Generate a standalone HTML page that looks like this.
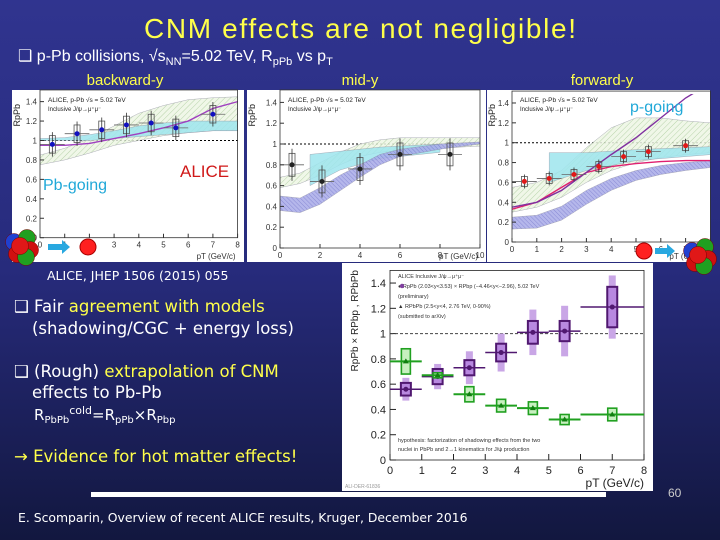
<!DOCTYPE html>
<html><head><meta charset="utf-8">
<style>
html,body{margin:0;padding:0;background:#1b2060;}
svg{display:block}
.t{font-family:"Liberation Sans",sans-serif}
.v{font-family:"DejaVu Sans","Liberation Sans",sans-serif}
</style></head>
<body>
<svg id="slide" width="720" height="540" viewBox="0 0 720 540" xmlns="http://www.w3.org/2000/svg">
<defs>
<linearGradient id="bg" x1="0" y1="0" x2="0" y2="1">
<stop offset="0" stop-color="#30348f"/><stop offset="0.5" stop-color="#272b7c"/><stop offset="1" stop-color="#12173f"/>
</linearGradient>
<pattern id="hg" width="4" height="4" patternUnits="userSpaceOnUse" patternTransform="rotate(45)"><rect width="4" height="4" fill="#eef6e4"/><line x1="0" y1="0" x2="0" y2="4" stroke="#9ac28a" stroke-width="0.8"/></pattern>
<pattern id="hb" width="3" height="3" patternUnits="userSpaceOnUse" patternTransform="rotate(-45)"><rect width="3" height="3" fill="#a9abe8"/><line x1="0" y1="0" x2="0" y2="3" stroke="#6668c8" stroke-width="0.8"/></pattern>
</defs>
<rect width="720" height="540" fill="url(#bg)"/>

<text class="t" x="360" y="38" text-anchor="middle" font-size="28" fill="#ffff4a" textLength="432">CNM effects are not negligible!</text>
<text class="t" x="18" y="61" font-size="16" fill="#fff">❑ p-Pb collisions, √s<tspan font-size="11" dy="4">NN</tspan><tspan dy="-4">=5.02 TeV, R</tspan><tspan font-size="11" dy="4">pPb</tspan><tspan dy="-4"> vs p</tspan><tspan font-size="11" dy="4">T</tspan></text>
<text class="t" x="125" y="85" text-anchor="middle" font-size="15" fill="#ffff4a">backward-y</text>
<text class="t" x="360" y="85" text-anchor="middle" font-size="15" fill="#ffff4a">mid-y</text>
<text class="t" x="602" y="85" text-anchor="middle" font-size="15" fill="#ffff4a">forward-y</text>

<g id="panels"></g>

<text class="v" x="47" y="280" font-size="12.5" fill="#fff">ALICE, JHEP 1506 (2015) 055</text>
<g class="v" font-size="16.5" fill="#fff">
<text x="14" y="312">❑ Fair <tspan fill="#ffff4a">agreement with models</tspan></text>
<text x="32" y="334">(shadowing/CGC + energy loss)</text>
<text x="14" y="377">❑ (Rough) <tspan fill="#ffff4a">extrapolation of CNM</tspan></text>
<text x="32" y="398">effects  to Pb-Pb</text>
<text x="34" y="420" font-size="15">R<tspan font-size="10" dy="3">PbPb</tspan><tspan font-size="11" dy="-9">cold</tspan><tspan dy="6">=R</tspan><tspan font-size="10" dy="3">pPb</tspan><tspan dy="-3">×R</tspan><tspan font-size="10" dy="3">Pbp</tspan></text>
<text x="14" y="462" fill="#ffff4a">→ Evidence for hot matter effects!</text>
</g>
<rect x="91" y="492" width="515" height="5" fill="#fff"/>
<text class="t" x="668" y="497" font-size="12" fill="#ccc">60</text>
<text class="v" x="18" y="522" font-size="12.4" fill="#fff">E. Scomparin, Overview of recent ALICE results, Kruger, December 2016</text>
</svg>
<script>
// ---- data: backward-y panel
const bwX = [0.5,1.5,2.5,3.5,4.5,5.5,7];
const bwR = [0.96,1.07,1.11,1.16,1.18,1.13,1.27];
const bwModelX = [0,1,2,3,4,5,6,7,8];
const bwGreenLo = [0.75,0.8,0.87,0.95,1.0,1.05,1.08,1.1,1.1];
const bwGreenHi = [0.85,0.92,1.02,1.15,1.28,1.36,1.42,1.44,1.45];
const bwCyanLo = [1.0,1.0,1.0,1.02,1.04,1.06,1.08,1.1,1.1];
const bwCyanHi = [1.02,1.03,1.06,1.1,1.15,1.18,1.2,1.2,1.2];
const bwLine = [0.95,0.95,0.97,1.02,1.07,1.13,1.2,1.33,1.4];
// ---- data: mid-y panel
const midX = [0.6,2.1,4,6,8.5];
const midR = [0.8,0.64,0.76,0.9,0.9];
const midModelX = [0,1,2,3,4,5,6,8,10];
const midBlueLo = [0.36,0.34,0.42,0.55,0.68,0.8,0.88,0.95,1.0];
const midBlueHi = [0.5,0.48,0.58,0.7,0.8,0.9,0.95,1.0,1.02];
const midGreenLo = [0.58,0.62,0.7,0.8,0.88,0.92,0.94,0.96,0.98];
const midGreenHi = [0.68,0.72,0.82,0.92,1.0,1.04,1.06,1.06,1.06];
// ---- data: forward-y panel
const fwX = [0.5,1.5,2.5,3.5,4.5,5.5,7];
const fwR = [0.61,0.64,0.68,0.76,0.86,0.91,0.97];
const fwModelX = [0,1,2,3,4,5,6,7,8];
const fwBlueLo = [0.13,0.14,0.22,0.38,0.52,0.62,0.68,0.72,0.75];
const fwBlueHi = [0.25,0.27,0.36,0.52,0.64,0.72,0.77,0.8,0.82];
const fwGreenLo = [0.3,0.35,0.45,0.6,0.72,0.8,0.85,0.88,0.9];
const fwGreenHi = [0.55,0.6,0.72,0.95,1.15,1.25,1.25,1.22,1.2];
const fwLine = [0.35,0.4,0.52,0.7,0.88,1.05,1.25,1.45,1.6];
const fwMag = [0.33,0.4,0.55,0.7,0.76,0.79,0.81,0.82,0.82];
// ---- data: combined panel
const cX = [0.5,1.5,2.5,3.5,4.5,5.5,7];
const cXlo = [0,1,2,3,4,5,6];
const cXhi = [1,2,3,4,5,6,8];
const purpleR = [0.56,0.66,0.73,0.85,1.01,1.02,1.21];
const purpleSys = [0.05,0.06,0.06,0.07,0.09,0.08,0.16];
const purpleUnc = [0.09,0.1,0.13,0.15,0.18,0.2,0.25];
const greenR = [0.78,0.67,0.52,0.43,0.41,0.32,0.36];
const greenSys = [0.1,0.02,0.06,0.05,0.05,0.04,0.05];
const yTicks = [0,0.2,0.4,0.6,0.8,1,1.2,1.4];
const xTicks = [0,1,2,3,4,5,6,7,8];

const NS="http://www.w3.org/2000/svg";
const root=document.getElementById('panels');
function mk(tag,attrs,parent){const e=document.createElementNS(NS,tag);for(const k in attrs)e.setAttribute(k,attrs[k]);(parent||root).appendChild(e);return e;}
function axis(x0,sx,y0,sy){return {X:v=>x0+v*sx,Y:v=>y0-v*sy};}
function band(ax,xs,lo,hi,fill,g){let d='';xs.forEach((x,i)=>{d+=(i?'L':'M')+ax.X(x)+','+ax.Y(hi[i]);});for(let i=xs.length-1;i>=0;i--)d+='L'+ax.X(xs[i])+','+ax.Y(lo[i]);return mk('path',{d:d+'Z',fill:fill,stroke:'#889',"stroke-width":0.4,opacity:0.85},g);}
function line(ax,xs,ys,col,g){return mk('polyline',{points:xs.map((x,i)=>ax.X(x)+','+ax.Y(ys[i])).join(' '),fill:'none',stroke:col,"stroke-width":1.4},g);}

function smallPanel(name,px,py,pw,ph,ax,xmax,xstep,ylabel){
  const g=mk('g',{});
  
  
  const bgr=mk('rect',{x:px,y:py,width:pw,height:ph,fill:'#fff'},g);
  
  
  const cid='c'+name;const cp=mk('clipPath',{id:cid},g);mk('rect',{x:ax.X(0),y:py+4,width:ax.X(xmax)-ax.X(0),height:ax.Y(0)-py-4},cp);
  const inner=mk('g',{"clip-path":'url(#'+cid+')'},g);
  mk('rect',{x:ax.X(0),y:ax.Y(1.52),width:ax.X(xmax)-ax.X(0),height:ax.Y(0)-ax.Y(1.52),fill:'none',stroke:'#333',"stroke-width":0.8},g);
  for(let v=0;v<=1.4001;v+=0.2){const y=ax.Y(v);mk('line',{x1:ax.X(0),x2:ax.X(0)+4,y1:y,y2:y,stroke:'#333'},g);
    const t=mk('text',{x:ax.X(0)-3,y:y+3,"font-size":8,"text-anchor":'end',fill:'#333',class:'t'},g);t.textContent=ylabel?(Math.round(v*10)/10).toString():'';}
  for(let v=0;v<=xmax;v+=xstep){const x=ax.X(v);mk('line',{x1:x,x2:x,y1:ax.Y(0),y2:ax.Y(0)-4,stroke:'#333'},g);
    const t=mk('text',{x:x,y:ax.Y(0)+10,"font-size":8,"text-anchor":'middle',fill:'#333',class:'t'},g);t.textContent=v;}
  mk('line',{x1:ax.X(0),x2:ax.X(xmax),y1:ax.Y(1),y2:ax.Y(1),stroke:'#000',"stroke-dasharray":'2,2'},inner);
  const lab=mk('text',{x:ax.X(0)+8,y:py+12,"font-size":6.5,fill:'#222',class:'t'},g);lab.textContent='ALICE, p-Pb √s = 5.02 TeV';
  const lab2=mk('text',{x:ax.X(0)+8,y:py+21,"font-size":6,fill:'#222',class:'t'},g);lab2.textContent='Inclusive J/ψ→μ⁺μ⁻';
  const yl=mk('text',{x:px+8,y:py+14,"font-size":9,fill:'#222',class:'t',transform:'rotate(-90 '+(px+8)+' '+(py+14)+')',"text-anchor":'end'},g);yl.textContent='RpPb';
  const xl=mk('text',{x:ax.X(xmax)-2,y:py+ph-3,"font-size":8,"text-anchor":'end',fill:'#333',class:'t'},g);xl.textContent='pT (GeV/c)';
  return {g,inner};
}
function points(ax,xs,ys,col,g,name,xe,syse){
  xs.forEach((x,i)=>{
    const b=mk('rect',{x:ax.X(x)-3,y:ax.Y(ys[i]+syse),width:6,height:ax.Y(0)-ax.Y(2*syse),fill:'none',stroke:'#555',"stroke-width":0.8},g);
    mk('line',{x1:ax.X(x-xe),x2:ax.X(x+xe),y1:ax.Y(ys[i]),y2:ax.Y(ys[i]),stroke:'#666',"stroke-width":0.8},g);
    mk('line',{x1:ax.X(x),x2:ax.X(x),y1:ax.Y(ys[i]+syse*1.4),y2:ax.Y(ys[i]-syse*1.4),stroke:'#333',"stroke-width":0.8},g);
    const c=mk('circle',{cx:ax.X(x),cy:ax.Y(ys[i]),r:2.5,fill:col},g);
    
    
  });
}
// Backward panel
const a1=axis(40,24.7,237.7,97.2);
let p=smallPanel('backward-panel',12,90,232,172,a1,8,1,true);
band(a1,bwModelX,bwGreenLo,bwGreenHi,'url(#hg)',p.inner);
band(a1,bwModelX,bwCyanLo,bwCyanHi,'#9ee6ee',p.inner);
line(a1,bwModelX,bwLine,'#a040c0',p.inner);
points(a1,bwX,bwR,'#1010c0',p.inner,'backward',0.5,0.09);
// Mid panel
const a2=axis(280,20,248,104);
p=smallPanel('mid-panel',247,90,239,172,a2,10,2,true);
band(a2,midModelX,midGreenLo,midGreenHi,'url(#hg)',p.inner);
band(a2,[1.5,3,5,8],[0.6,0.75,0.86,0.92],[0.9,0.93,0.97,1.0],'#9ee6ee',p.inner);
band(a2,midModelX,midBlueLo,midBlueHi,'url(#hb)',p.inner);
points(a2,midX,midR,'#222',p.inner,'mid',0.6,0.11);
// Forward panel
const a3=axis(512,24.8,242,99.3);
p=smallPanel('forward-panel',487,90,223,172,a3,8,1,true);
band(a3,fwModelX,fwGreenLo,fwGreenHi,'url(#hg)',p.inner);
band(a3,[1.5,3,5,8],[0.6,0.72,0.82,0.88],[0.9,0.9,0.93,0.96],'#9ee6ee',p.inner);
band(a3,fwModelX,fwBlueLo,fwBlueHi,'url(#hb)',p.inner);
line(a3,fwModelX,fwMag,'#e02070',p.inner);
line(a3,fwModelX,fwLine,'#8030a0',p.inner);
points(a3,fwX,fwR,'#e01818',p.inner,'forward',0.5,0.05);

// overlays text
function txt(x,y,s,size,col,name,anchor){const t=mk('text',{x:x,y:y,"font-size":size,fill:col,class:'t',"text-anchor":anchor||'start'});t.textContent=s;
  
  return t;}
txt(43,190,'Pb-going',16,'#20a8d8','pb-going-label');
txt(180,177,'ALICE',17,'#d01818','alice-label');
txt(630,112,'p-going',16,'#20a8d8','p-going-label');
// nuclei icons
function nucleus(cx,cy,name){const g=mk('g',{});
  [[-8,-4,'#2040d0'],[5,-8,'#20a020'],[8,4,'#d01010'],[-5,8,'#d01010'],[4,11,'#20a020'],[-2,0,'#e01818']].forEach(q=>mk('circle',{cx:cx+q[0],cy:cy+q[1],r:8.5,fill:q[2],stroke:'#700',"stroke-width":0.5},g));}
nucleus(22,246,'lead-nucleus-left');
mk('circle',{cx:88,cy:247,r:8,fill:'#ff2020',stroke:'#a00'});
mk('path',{d:'M48,244 h14 v-4 l8,7 l-8,7 v-4 h-14z',fill:'#28a8e0'});
nucleus(700,255,'lead-nucleus-right');
mk('circle',{cx:644,cy:251,r:8,fill:'#ff2020',stroke:'#a00'});
mk('path',{d:'M655,248 h12 v-4 l8,7 l-8,7 v-4 h-12z',fill:'#28a8e0'});

// Combined chart
const A=axis(390,31.75,460,126.4);
const cg=mk('g',{});


const cb=mk('rect',{x:342,y:263,width:311,height:228,fill:'#fff'},cg);


mk('rect',{x:A.X(0),y:A.Y(1.5),width:A.X(8)-A.X(0),height:A.Y(0)-A.Y(1.5),fill:'none',stroke:'#222',"stroke-width":0.8},cg);
yTicks.forEach(v=>{const y=A.Y(v);mk('line',{x1:A.X(0),x2:A.X(0)+6,y1:y,y2:y,stroke:'#222'},cg);
  const t=mk('text',{x:A.X(0)-4,y:y+4,"font-size":11,"text-anchor":'end',fill:'#222',class:'t'},cg);t.textContent=v;
  
  });
xTicks.forEach(v=>{const x=A.X(v);mk('line',{x1:x,x2:x,y1:A.Y(0),y2:A.Y(0)-6,stroke:'#222'},cg);
  const t=mk('text',{x:x,y:A.Y(0)+14,"font-size":11,"text-anchor":'middle',fill:'#222',class:'t'},cg);t.textContent=v;
  
  });
mk('line',{x1:A.X(0),x2:A.X(8),y1:A.Y(1),y2:A.Y(1),stroke:'#444',"stroke-dasharray":'3,2'},cg);
let t=mk('text',{x:A.X(8),y:487,"font-size":12,"text-anchor":'end',fill:'#222',class:'t'},cg);t.textContent='pT (GeV/c)';


t=mk('text',{x:358,y:270,"font-size":10,"text-anchor":'end',fill:'#222',class:'t',transform:'rotate(-90 358 270)'},cg);t.textContent='RpPb × RPbp , RPbPb';


[['ALICE Inclusive J/ψ→μ⁺μ⁻',278],['● RpPb (2.03<y<3.53) × RPbp (−4.46<y<−2.96), 5.02 TeV',288],['(preliminary)',298],['▲ RPbPb (2.5<y<4, 2.76 TeV, 0-90%)',308],['(submitted to arXiv)',318],['hypothesis: factorization of shadowing effects from the two',442],['nuclei in PbPb and 2→1 kinematics for J/ψ production',451]].forEach(q=>{
  const e=mk('text',{x:398,y:q[1],"font-size":5.5,fill:'#333',class:'t'},cg);e.textContent=q[0];});
mk('circle',{cx:402,cy:286,r:2.2,fill:'#8040a0'},cg);
cX.forEach((x,i)=>{
  const y=purpleR[i];
  mk('rect',{x:A.X(x)-3.5,y:A.Y(y+purpleUnc[i]),width:7,height:A.Y(0)-A.Y(2*purpleUnc[i]),fill:'#c9a6e6'},cg);
  const b=mk('rect',{x:A.X(x)-5,y:A.Y(y+purpleSys[i]),width:10,height:A.Y(0)-A.Y(2*purpleSys[i]),fill:'#b888e0',stroke:'#501870',"stroke-width":2},cg);
  
  
  mk('line',{x1:A.X(cXlo[i]),x2:A.X(cXhi[i]),y1:A.Y(y),y2:A.Y(y),stroke:'#501870',"stroke-width":1.5},cg);
  const c=mk('circle',{cx:A.X(x),cy:A.Y(y),r:2.5,fill:'#501870'},cg);
  
  
});
cX.forEach((x,i)=>{
  const y=greenR[i];
  const b=mk('rect',{x:A.X(x)-4.5,y:A.Y(y+greenSys[i]),width:9,height:A.Y(0)-A.Y(2*greenSys[i]),fill:'#c8f0c0',stroke:'#20a020',"stroke-width":1.6},cg);
  
  
  mk('line',{x1:A.X(cXlo[i]),x2:A.X(cXhi[i]),y1:A.Y(y),y2:A.Y(y),stroke:'#20a020',"stroke-width":2},cg);
  const m=mk('path',{d:'M'+A.X(x)+','+(A.Y(y)-3)+' l3,5 h-6z',fill:'#108010'},cg);
  
  
});
t=mk('text',{x:345,y:488,"font-size":5,fill:'#999',class:'t'},cg);t.textContent='ALI-DER-61836';
</script>
</body></html>
